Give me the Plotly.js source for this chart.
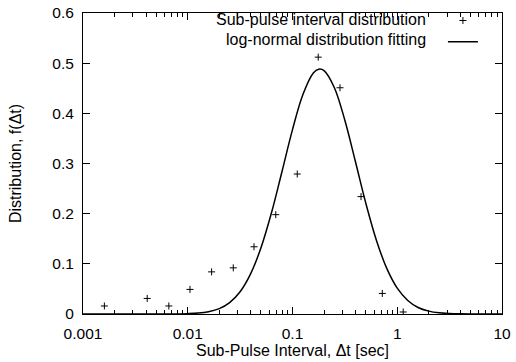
<!DOCTYPE html>
<html>
<head>
<meta charset="utf-8">
<script src="https://cdn.plot.ly/plotly-3.0.1.min.js"></script>
<style>html,body{margin:0;padding:0;background:#fff;}#chart{width:516px;height:362px;}</style>
</head>
<body>
<div id="chart"></div>
<script>
var intervalX = [0.0016, 0.0041, 0.0066, 0.0105, 0.0169, 0.0272, 0.0429, 0.0692, 0.111, 0.176, 0.284, 0.451, 0.72, 1.14];
var intervalY = [0.016, 0.031, 0.016, 0.049, 0.084, 0.092, 0.134, 0.198, 0.279, 0.512, 0.451, 0.234, 0.041, 0.004];

// Log-normal fitting curve
var fitX = [0.001, 0.00316, 0.00631, 0.01, 0.0126, 0.0158, 0.02, 0.0251, 0.0316, 0.0398, 0.0501, 0.0631, 0.0794, 0.1, 0.126, 0.158, 0.178, 0.2, 0.251, 0.316, 0.398, 0.501, 0.631, 0.794, 1, 1.26, 1.58, 2, 2.51, 3.16, 3.98, 5.01, 10];
var fitY = [0, 0, 0, 0.0007, 0.0018, 0.0046, 0.0107, 0.0227, 0.0444, 0.080, 0.1325, 0.2022, 0.2841, 0.3676, 0.4379, 0.4803, 0.488, 0.4851, 0.4511, 0.3862, 0.3045, 0.221, 0.1477, 0.0909, 0.0515, 0.0269, 0.0129, 0.0057, 0.0023, 0.0009, 0.0003, 0.0001, 0];

var seriesNames = ["Sub-pulse interval distribution", "log-normal distribution fitting"];
var xTickVals = [0.001, 0.01, 0.1, 1, 10];
var xTickText = ["0.001", "0.01", "0.1", "1", "10"];
var xTitle = "Sub-Pulse Interval, \u0394t [sec]";
var yTitle = "Distribution, f(\u0394t)";

var FONT = "Liberation Sans, Arial, Helvetica, sans-serif";

// minor log ticks 2..9 in each decade
var minorVals = [];
for (var d = 0; d < xTickVals.length - 1; d++) {
  for (var m = 2; m <= 9; m++) minorVals.push(xTickVals[d] * m);
}

var traces = [
  {
    x: intervalX, y: intervalY, type: "scatter", mode: "markers",
    name: " ", meta: seriesNames[0],
    marker: {symbol: "cross-thin-open", size: 5, color: "#000", line: {color: "#000", width: 1}},
    hoverinfo: "x+y"
  },
  {
    x: fitX, y: fitY, type: "scatter", mode: "lines",
    name: " ", meta: seriesNames[1],
    line: {color: "#000", width: 1.5, shape: "spline", smoothing: 1},
    hoverinfo: "x+y"
  }
];

var layout = {
  width: 516, height: 362,
  margin: {l: 83, r: 14, t: 13, b: 48, autoexpand: false},
  paper_bgcolor: "#fff", plot_bgcolor: "#fff",
  font: {family: FONT, size: 16, color: "#000"},
  showlegend: true,
  legend: {
    x: 0.859, xanchor: "left", y: 1.027, yanchor: "top",
    bgcolor: "rgba(0,0,0,0)", borderwidth: 0,
    font: {family: FONT, size: 14, color: "#000"},
    tracegroupgap: 0
  },
  annotations: [
    {text: seriesNames[0], xref: "paper", yref: "paper", x: 0.823, y: 0.977, xanchor: "right", yanchor: "middle", showarrow: false, font: {family: FONT, size: 16, color: "#000"}},
    {text: seriesNames[1], xref: "paper", yref: "paper", x: 0.823, y: 0.912, xanchor: "right", yanchor: "middle", showarrow: false, font: {family: FONT, size: 16, color: "#000"}}
  ],
  xaxis: {
    type: "log", range: [-3, 1],
    tickmode: "array", tickvals: xTickVals, ticktext: xTickText,
    ticks: "inside", ticklen: 7, tickwidth: 1, tickcolor: "#000",
    minor: {tickmode: "array", tickvals: minorVals, ticks: "inside", ticklen: 4, tickwidth: 1, tickcolor: "#000", showgrid: false},
    showline: true, linecolor: "#000", linewidth: 1, mirror: "ticks",
    showgrid: false, zeroline: false,
    ticklabelstandoff: 5,
    tickfont: {family: FONT, size: 15.5, color: "#000"},
    title: {text: xTitle, font: {family: FONT, size: 16, color: "#000"}, standoff: 4}
  },
  yaxis: {
    range: [0, 0.6], dtick: 0.1, tick0: 0,
    ticks: "inside", ticklen: 7, tickwidth: 1, tickcolor: "#000",
    showline: true, linecolor: "#000", linewidth: 1, mirror: "ticks",
    showgrid: false, zeroline: false,
    ticklabelstandoff: 5,
    tickfont: {family: FONT, size: 15.5, color: "#000"},
    title: {text: yTitle, font: {family: FONT, size: 16, color: "#000"}, standoff: 26}
  }
};

Plotly.newPlot("chart", traces, layout, {staticPlot: true, displayModeBar: false});
</script>
</body>
</html>
